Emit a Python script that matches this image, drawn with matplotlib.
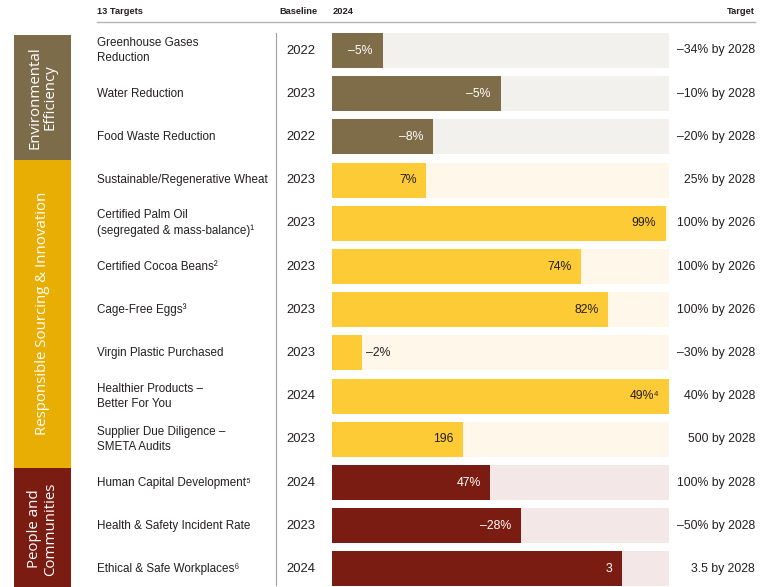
import matplotlib.pyplot as plt
from matplotlib.transforms import blended_transform_factory

# Datos
etiquetas = ["Greenhouse Gases\nReduction", "Water Reduction", "Food Waste Reduction",
             "Sustainable/Regenerative Wheat", "Certified Palm Oil\n(segregated & mass-balance)¹",
             "Certified Cocoa Beans²", "Cage-Free Eggs³", "Virgin Plastic Purchased",
             "Healthier Products –\nBetter For You", "Supplier Due Diligence –\nSMETA Audits",
             "Human Capital Development⁵", "Health & Safety Incident Rate",
             "Ethical & Safe Workplaces⁶"]
baseline = ["2022", "2023", "2022", "2023", "2023", "2023", "2023", "2023",
            "2024", "2023", "2024", "2023", "2024"]
valores_2024 = ["–5%", "–5%", "–8%", "7%", "99%", "74%", "82%", "–2%",
                "49%⁴", "196", "47%", "–28%", "3"]
objetivos = ["–34% by 2028", "–10% by 2028", "–20% by 2028", "25% by 2028", "100% by 2026",
             "100% by 2026", "100% by 2026", "–30% by 2028", "40% by 2028", "500 by 2028",
             "100% by 2028", "–50% by 2028", "3.5 by 2028"]
avance = [15, 50, 30, 28, 99, 74, 82, 9, 100, 39, 47, 56, 86]
grupo = [0, 0, 0, 1, 1, 1, 1, 1, 1, 1, 2, 2, 2]

grupos = ["Environmental\nEfficiency", "Responsible Sourcing & Innovation", "People and\nCommunities"]
grupo_limites = [(-0.36, 2.53), (2.53, 9.66), (9.66, 12.5)]

color_barra = ["#7f6d4a", "#fdcb36", "#7b1c12"]
color_fondo = ["#f2f1ed", "#fff8ea", "#f3e7e7"]
color_banda = ["#7d6c49", "#e9ae04", "#7a1c12"]
color_texto_valor = ["white", "#231f20", "white"]
texto = "#231f20"

plt.rcParams['font.family'] = ['Liberation Sans', 'DejaVu Sans']

W, H = 768, 587
fig = plt.figure(figsize=(W / 100, H / 100), dpi=100)

n = len(etiquetas)
paso = 43.2
y0 = 50.5
top = y0 - paso / 2
bottom = y0 + paso * (n - 1) + paso / 2

def px(x):
    return x / W

ax = fig.add_axes([px(332), (H - bottom) / H, px(337), (bottom - top) / H])
ax.set_xlim(0, 100)
ax.set_ylim(n - 0.5, -0.5)
ax.axis("off")

filas = list(range(n))
ax.barh(filas, [100] * n, height=0.81, color=[color_fondo[g] for g in grupo])
ax.barh(filas, avance, height=0.81, color=[color_barra[g] for g in grupo])

for i in filas:
    g = grupo[i]
    if avance[i] < 12:
        ax.annotate(valores_2024[i], (avance[i], i), xytext=(3, 0), textcoords="offset points",
                    ha="left", va="center", fontsize=8.8, color=texto)
    else:
        ax.annotate(valores_2024[i], (avance[i], i), xytext=(-7, 0), textcoords="offset points",
                    ha="right", va="center", fontsize=8.8, color=color_texto_valor[g])

tr = blended_transform_factory(fig.transFigure, ax.transData)
for i in filas:
    ax.text(px(97), i, etiquetas[i], transform=tr, ha="left", va="center",
            fontsize=8.4, color=texto, linespacing=1.35)
    ax.text(px(286), i, baseline[i], transform=tr, ha="left", va="center",
            fontsize=9.4, color=texto)
    ax.text(px(755), i, objetivos[i], transform=tr, ha="right", va="center",
            fontsize=8.8, color=texto)

# bandas de categoria
axb = fig.add_axes([px(14), (H - bottom) / H, px(57), (bottom - top) / H], sharey=ax)
axb.set_xlim(0, 1)
axb.axis("off")
for k, (a, b) in enumerate(grupo_limites):
    axb.barh((a + b) / 2, 1, height=b - a, left=0, color=color_banda[k])
    axb.text(0.5, (a + b) / 2, grupos[k], rotation=90, ha="center", va="center",
             color="white", fontsize=10.8, family=["Open Sans", "DejaVu Sans"], linespacing=1.05)
axb.set_ylim(n - 0.5, -0.5)

# cabecera
fig.text(px(97), 1 - 12 / H, "13 Targets", fontsize=6.7, fontweight="bold", va="center", color=texto)
fig.text(px(279), 1 - 12 / H, "Baseline", fontsize=6.7, fontweight="bold", va="center", color=texto)
fig.text(px(333), 1 - 12 / H, "2024", fontsize=6.7, fontweight="bold", va="center", color=texto)
fig.text(px(755), 1 - 12 / H, "Target", fontsize=6.7, fontweight="bold", va="center", ha="right", color=texto)
fig.add_artist(plt.Line2D([px(97), px(755)], [1 - 22 / H, 1 - 22 / H], color="#b5b5b5", lw=1))
fig.add_artist(plt.Line2D([px(276), px(276)], [1 - 33 / H, 1 - 585 / H], color="#a0a0a0", lw=0.8))

fig.savefig("out.png", dpi=100)
